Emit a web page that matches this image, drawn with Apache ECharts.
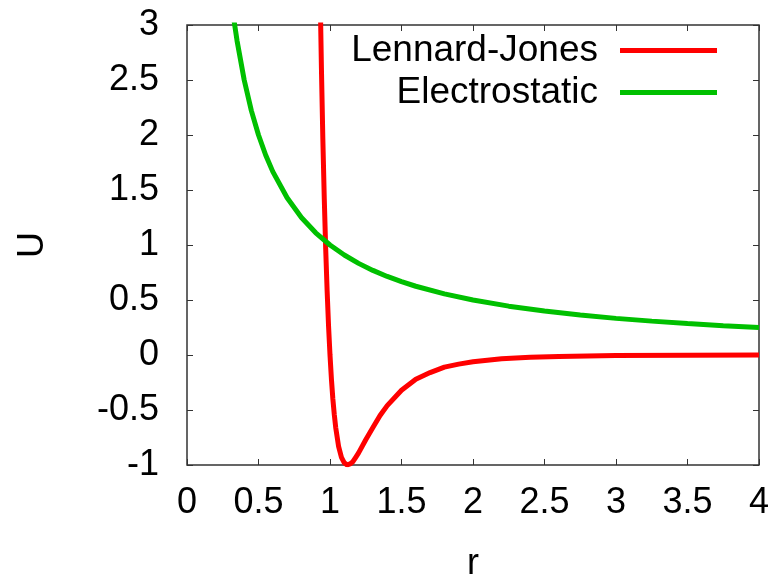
<!DOCTYPE html>
<html>
<head>
<meta charset="utf-8">
<script src="https://cdn.jsdelivr.net/npm/echarts@6/dist/echarts.min.js"></script>
<style>html,body{margin:0;padding:0;background:#fff;}#c{width:783px;height:579px;}</style>
</head>
<body>
<div id="c"></div>
<script>
const seriesNames = ['Lennard-Jones', 'Electrostatic'];
const ljR = [0.93, 0.94, 0.95, 0.96, 0.97, 0.98, 0.99, 1.0, 1.01, 1.02, 1.03, 1.04, 1.06, 1.08, 1.10, 1.12, 1.14, 1.16, 1.18, 1.2, 1.25, 1.3, 1.35, 1.4, 1.5, 1.6, 1.7, 1.8, 1.9, 2.0, 2.2, 2.4, 2.6, 2.8, 3.0, 3.5, 4.0];
const ljU = [3.37, 2.61, 1.96, 1.42, 0.96, 0.58, 0.26, 0.0, -0.22, -0.40, -0.54, -0.66, -0.83, -0.93, -0.98, -1.0, -0.99, -0.97, -0.93, -0.89, -0.77, -0.66, -0.55, -0.46, -0.32, -0.22, -0.16, -0.11, -0.083, -0.062, -0.035, -0.021, -0.013, -0.008, -0.005, -0.002, -0.001];
const esR = [0.33, 0.35, 0.4, 0.45, 0.5, 0.55, 0.6, 0.7, 0.8, 0.9, 1.0, 1.1, 1.2, 1.3, 1.4, 1.5, 1.6, 1.8, 2.0, 2.25, 2.5, 2.75, 3.0, 3.25, 3.5, 3.75, 4.0];
const esU = [3.03, 2.857, 2.5, 2.222, 2.0, 1.818, 1.667, 1.429, 1.25, 1.111, 1.0, 0.909, 0.833, 0.769, 0.714, 0.667, 0.625, 0.556, 0.5, 0.444, 0.4, 0.364, 0.333, 0.308, 0.286, 0.267, 0.25];
const xTicks = {min: 0, max: 4, interval: 0.5};
const yTicks = {min: -1, max: 3, interval: 0.5};

const FONT = 'Liberation Sans, Arial, sans-serif';
const chart = echarts.init(document.getElementById('c'), null, {renderer: 'canvas'});
const tickStyle = {show: true, inside: true, length: 6, lineStyle: {color: '#333', width: 1}};
const noLine = {show: false, onZero: false};
const zip = (a, b) => a.map((v, i) => [v, b[i]]);
const legendText = {fontFamily: FONT, fontSize: 37, color: '#000', padding: [0, 17, 0, 0]};
chart.setOption({
  animation: false,
  backgroundColor: '#fff',
  grid: {left: 187, right: 24, top: 25, bottom: 114, show: true, borderColor: '#333', borderWidth: 1.5, containLabel: false, outerBoundsMode: 'none'},
  legend: [
    {data: [seriesNames[0]], right: 66, top: 32, align: 'right', orient: 'vertical', padding: 0, itemWidth: 97, itemHeight: 5, icon: 'rect', textStyle: legendText},
    {data: [seriesNames[1]], right: 66, top: 74, align: 'right', orient: 'vertical', padding: 0, itemWidth: 97, itemHeight: 5, icon: 'rect', textStyle: legendText}
  ],
  xAxis: [
    {type: 'value', position: 'bottom', min: xTicks.min, max: xTicks.max, interval: xTicks.interval,
     name: 'r', nameLocation: 'middle', nameGap: 81, nameTextStyle: {fontFamily: FONT, fontSize: 36, color: '#000'},
     axisLine: noLine, axisTick: tickStyle, splitLine: {show: false},
     axisLabel: {margin: 20, fontFamily: FONT, fontSize: 36, color: '#000'}},
    {type: 'value', position: 'top', min: xTicks.min, max: xTicks.max, interval: xTicks.interval,
     axisLine: noLine, axisTick: tickStyle, splitLine: {show: false}, axisLabel: {show: false}}
  ],
  yAxis: [
    {type: 'value', position: 'left', min: yTicks.min, max: yTicks.max, interval: yTicks.interval,
     name: 'U', nameLocation: 'middle', nameRotate: 90, nameGap: 136, nameTextStyle: {fontFamily: FONT, fontSize: 36, color: '#000'},
     axisLine: noLine, axisTick: tickStyle, splitLine: {show: false},
     axisLabel: {margin: 28, fontFamily: FONT, fontSize: 36, color: '#000'}},
    {type: 'value', position: 'right', min: yTicks.min, max: yTicks.max, interval: yTicks.interval,
     axisLine: noLine, axisTick: tickStyle, splitLine: {show: false}, axisLabel: {show: false}}
  ],
  series: [
    {name: seriesNames[0], type: 'line', data: zip(ljR, ljU), showSymbol: false, symbol: 'none', clip: true,
     lineStyle: {color: '#ff0000', width: 5}, itemStyle: {color: '#ff0000'}},
    {name: seriesNames[1], type: 'line', data: zip(esR, esU), showSymbol: false, symbol: 'none', clip: true,
     lineStyle: {color: '#00c000', width: 5}, itemStyle: {color: '#00c000'}}
  ]
});
</script>
</body>
</html>
